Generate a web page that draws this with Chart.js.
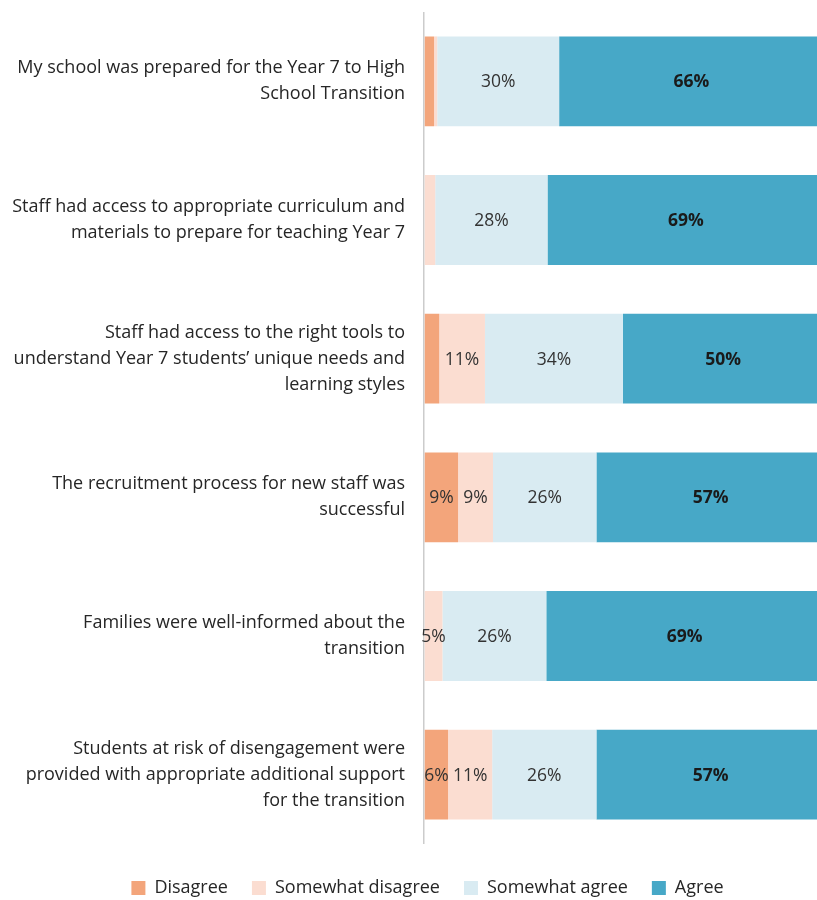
<!DOCTYPE html>
<html>
<head>
<meta charset="utf-8">
<script src="https://cdn.jsdelivr.net/npm/chart.js@4.4.1/dist/chart.umd.min.js"></script>
<style>
  body { margin: 0; background: #fff; }
  #wrap { width: 817px; height: 900px; }
</style>
</head>
<body>
<div id="wrap"><canvas id="chart"></canvas></div>
<script>
// Data (percent of respondents)
const statements = [
  ["My school was prepared for the Year 7 to High", "School Transition"],
  ["Staff had access to appropriate curriculum and", "materials to prepare for teaching Year 7"],
  ["Staff had access to the right tools to", "understand Year 7 students\u2019 unique needs and", "learning styles"],
  ["The recruitment process for new staff was", "successful"],
  ["Families were well-informed about the", "transition"],
  ["Students at risk of disengagement were", "provided with appropriate additional support", "for the transition"]
];
const disagree = [2.5, 0, 3.8, 8.5, 0, 6];
const somewhatDisagree = [0.8, 2.8, 11.4, 8.7, 4.6, 11];
const somewhatAgree = [30.4, 28, 34.4, 25.8, 25.9, 26];
const agree = [66, 69, 50, 57, 69, 57];

const seriesNames = ["Disagree", "Somewhat disagree", "Somewhat agree", "Agree"];
const seriesColors = ["#F3A57B", "#FBDDD1", "#D9EBF2", "#47A8C7"];

const FONT = "'Open Sans'";

// draws the % labels inside each segment
const segmentLabels = {
  id: "segmentLabels",
  afterDatasetsDraw(chart) {
    const ctx = chart.ctx;
    ctx.save();
    ctx.textAlign = "center";
    ctx.textBaseline = "middle";
    chart.data.datasets.forEach((ds, i) => {
      const meta = chart.getDatasetMeta(i);
      meta.data.forEach((bar, j) => {
        const v = Math.round(ds.data[j]);
        if (v < 5) return;
        const c = bar.getCenterPoint();
        const isAgree = i === 3;
        ctx.font = (isAgree ? "bold " : "") + "17.5px " + FONT;
        ctx.fillStyle = isAgree ? "#1a1a1a" : "#333333";
        ctx.fillText(v + "%", c.x, c.y + 1);
      });
    });
    ctx.restore();
  }
};

// legend in the original sits a bit right of the page centre
const legendShift = {
  id: "legendShift",
  afterLayout(chart) {
    chart.legend.left += 19;
    chart.legend.right += 19;
  }
};

new Chart(document.getElementById("chart"), {
  type: "bar",
  data: {
    labels: statements,
    datasets: [disagree, somewhatDisagree, somewhatAgree, agree].map((d, i) => ({
      label: seriesNames[i],
      data: d,
      backgroundColor: seriesColors[i],
      borderWidth: 0,
      barPercentage: 0.9,
      categoryPercentage: 0.72
    }))
  },
  options: {
    indexAxis: "y",
    responsive: true,
    maintainAspectRatio: false,
    animation: false,
    layout: { autoPadding: false, padding: { top: 12, right: 0, bottom: -7, left: 0 } },
    scales: {
      x: {
        stacked: true,
        min: 0,
        max: 98,
        afterFit: s => { s.height = 11; },
        ticks: { display: false, stepSize: 50 },
        border: { display: false },
        grid: {
          drawTicks: false,
          lineWidth: 1.5,
          color: c => (c.tick && (c.tick.value === 0 || c.tick.value === 50)) ? "#cccccc" : "rgba(0,0,0,0)"
        }
      },
      y: {
        stacked: true,
        afterFit: s => { s.width = 424; s.paddingTop = 0; s.paddingBottom = 0; },
        border: { display: false },
        grid: { display: false, drawTicks: false },
        ticks: {
          padding: 19,
          color: "#262626",
          font: { family: FONT, size: 18, lineHeight: 1.44 }
        }
      }
    },
    plugins: {
      tooltip: { enabled: false },
      legend: {
        position: "bottom",
        labels: {
          boxWidth: 14,
          boxHeight: 14,
          padding: 24,
          color: "#262626",
          font: { family: FONT, size: 18 }
        }
      }
    }
  },
  plugins: [segmentLabels, legendShift]
});
</script>
</body>
</html>
